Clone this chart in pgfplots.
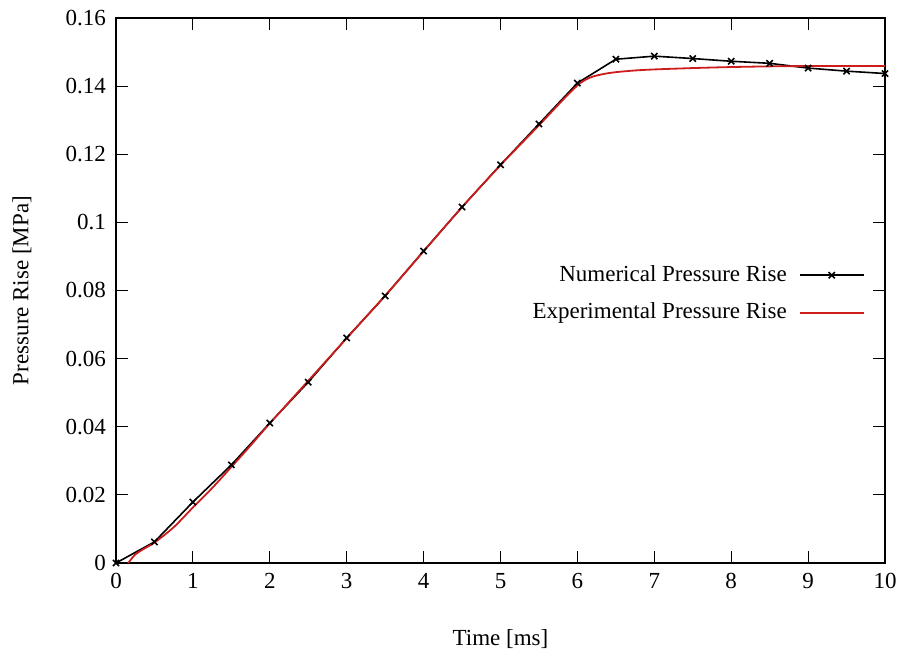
\documentclass[border=0pt]{standalone}
\usepackage{fontspec}
\setmainfont{Liberation Serif}
\usepackage{pgfplots}
\pgfplotsset{compat=1.18}
\definecolor{expred}{RGB}{205,28,28}
\begin{document}
\fontsize{11.5}{13.5}\selectfont
\begin{tikzpicture}
\begin{axis}[
  at={(58pt,46pt)}, anchor=south west,
  scale only axis, width=384.5pt, height=272.5pt,
  xmin=0, xmax=10, ymin=0, ymax=0.16,
  xtick={0,1,...,10},
  ytick={0,0.02,0.04,0.06,0.08,0.1,0.12,0.14,0.16},
  scaled y ticks=false,
  /pgf/number format/assume math mode=true,
  yticklabel style={/pgf/number format/fixed,/pgf/number format/precision=2},
  tick align=inside, major tick length=6pt,
  tick style={black, line width=0.5pt},
  axis line style={line width=0.6pt},
  xlabel={Time [ms]}, ylabel={Pressure Rise [MPa]},
  xlabel style={at={(axis description cs:0.5,0)}, anchor=center, yshift=-38pt},
  ylabel style={at={(axis description cs:0,0.5)}, anchor=center, yshift=47pt},
  xticklabel style={yshift=-1pt},
  yticklabel style={xshift=-1pt},
  legend plot pos=right,
  legend cell align=right,
  legend style={draw=none, fill=none, at={(axis cs:9.82,0.0790)}, anchor=east,
    row sep=5pt, column sep=4pt, font=\fontsize{11.5}{13.5}\selectfont},
  legend image code/.code={\draw[mark repeat=2,mark phase=2] plot coordinates {(0pt,0pt) (16pt,0pt) (32pt,0pt)};},
]
\addplot[black, line width=0.8pt, mark=x, mark size=2.2pt, mark options={line width=0.8pt}] coordinates {
(0,0) (0.5,0.0062) (1,0.0179) (1.5,0.0288) (2,0.0411) (2.5,0.0531) (3,0.0661)
(3.5,0.0784) (4,0.0916) (4.5,0.1045) (5,0.1169) (5.5,0.1289) (6,0.1409)
(6.5,0.1479) (7,0.1488) (7.5,0.1481) (8,0.1473) (8.5,0.1467) (9,0.1453)
(9.5,0.1444) (10,0.1437)
};
\addlegendentry{Numerical Pressure Rise}
\addplot[expred, line width=0.9pt, smooth,
  legend image code/.code={\draw[expred, line width=1pt] (0pt,0pt) -- (32pt,0pt);}] coordinates {
(0.16,0) (0.2,0.0012) (0.25,0.0025) (0.35,0.0040) (0.5,0.0060) (0.75,0.0105)
(1.0,0.0163) (1.25,0.0220) (1.5,0.0282) (1.75,0.0345) (2.0,0.0410) (2.5,0.0535)
(3.0,0.0660) (3.5,0.0785) (4.0,0.0915) (4.5,0.1045) (5.0,0.1168) (5.5,0.1285)
(5.8,0.1357) (6.0,0.1402) (6.1,0.1418) (6.2,0.1428) (6.35,0.1436) (6.5,0.1441)
(6.75,0.1446) (7.0,0.1449) (7.5,0.1453) (8.0,0.1456) (8.5,0.1458) (9.0,0.1459)
(9.5,0.1459) (10,0.1459)
};
\addlegendentry{Experimental Pressure Rise}
\end{axis}
\pgfresetboundingbox
\path (0,0) rectangle (449.5pt,327.5pt);
\end{tikzpicture}
\end{document}
